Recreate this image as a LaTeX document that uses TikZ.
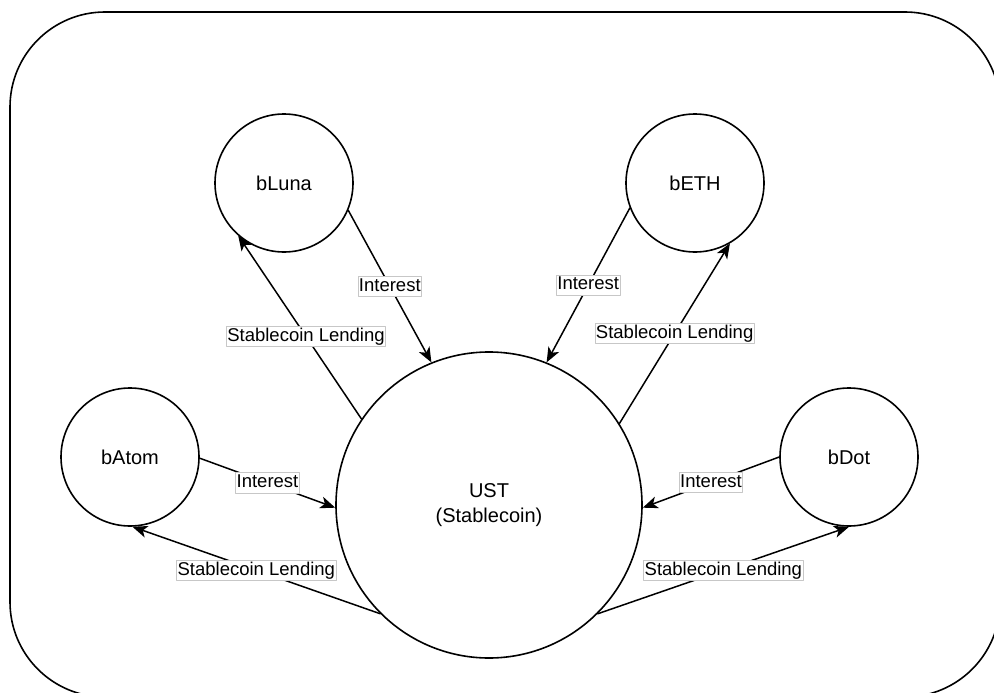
\documentclass[tikz,border=0pt]{standalone}
\usepackage{fontspec}
\setmainfont{Liberation Sans}
\usetikzlibrary{arrows.meta}
\begin{document}
\begin{tikzpicture}[x=1pt,y=-1pt,line join=round,line cap=round,
    >={Stealth[length=15pt,width=12pt,inset=4pt]},
    coin/.style={circle,draw,line width=1.6pt,inner sep=0pt,minimum size=138pt,
      align=center,font=\fontsize{20}{25}\selectfont},
    flow/.style={->,line width=1.5pt},
    lbl/.style={fill=white,draw=black!22,line width=0.7pt,inner xsep=1pt,inner ysep=1.5pt,
      text height=13.5pt,text depth=4pt,font=\fontsize{18.5}{22}\selectfont}]
  \useasboundingbox (0,0) rectangle (994,693);
  \clip (0,0) rectangle (994,693);
  % frame
  \draw[line width=1.6pt,rounded corners=95pt] (10,12) rectangle (1000,697);
  % coins
  \node[coin,minimum size=306pt] (ust) at (489,505) {UST\\(Stablecoin)};
  \node[coin] (bluna) at (284,183) {bLuna};
  \node[coin] (beth) at (695,183) {bETH};
  \node[coin] (batom) at (130,457) {bAtom};
  \node[coin] (bdot) at (849,457) {bDot};
  % interest and lending
  \draw[flow] (bluna.-23.6) -- node[lbl] {Interest} (ust.112.6);
  \draw[flow] (ust.146.4) -- node[lbl,pos=0.45] {Stablecoin Lending} (bluna.229);
  \draw[flow] (beth.201.8) -- node[lbl] {Interest} (ust.68);
  \draw[flow] (ust.32.5) -- node[lbl] {Stablecoin Lending} (beth.300);
  \draw[flow] (batom.-1) -- node[lbl] {Interest} (ust.181);
  \draw[flow] (ust.225.5) -- node[lbl] {Stablecoin Lending} (batom.272.5);
  \draw[flow] (bdot.180) -- node[lbl] {Interest} (ust.359);
  \draw[flow] (ust.315) -- node[lbl] {Stablecoin Lending} (bdot.270);
\end{tikzpicture}
\end{document}
